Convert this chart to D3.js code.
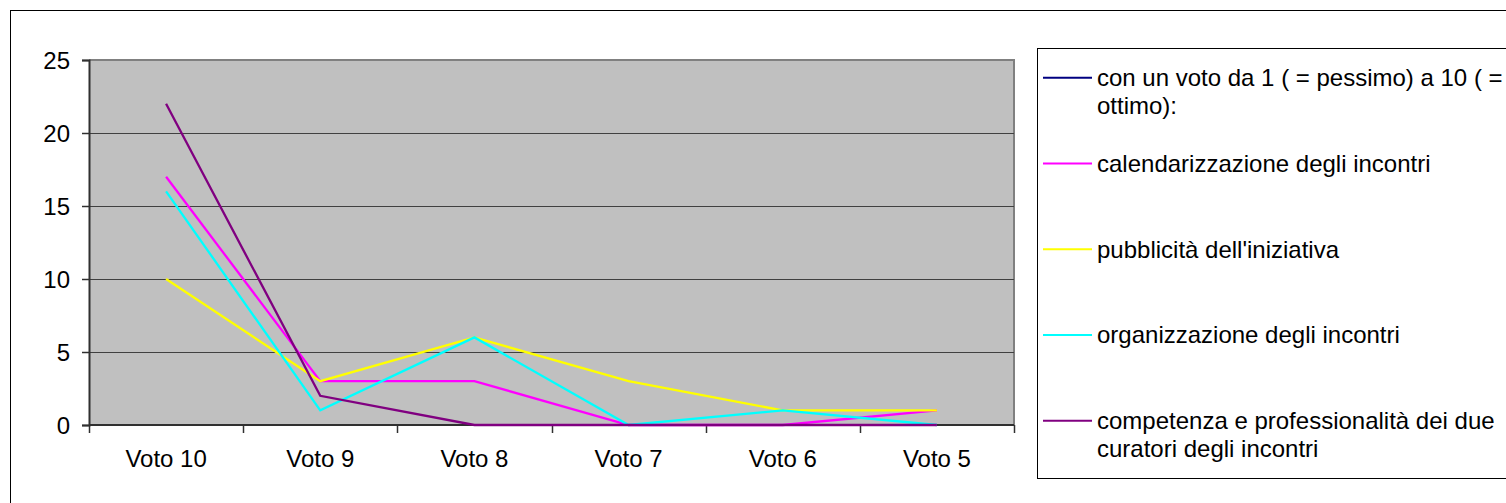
<!DOCTYPE html>
<html>
<head>
<meta charset="utf-8">
<script src="https://cdn.jsdelivr.net/npm/d3@7"></script>
<style>
  html, body { margin: 0; padding: 0; background: #fff; }
  svg { display: block; font-family: "Liberation Sans", Arial, Helvetica, sans-serif; }
</style>
</head>
<body>
<svg id="chart" width="1506" height="503"></svg>
<script>
// ---- data ----
const categories = ["Voto 10", "Voto 9", "Voto 8", "Voto 7", "Voto 6", "Voto 5"];
const seriesNames = [
  "con un voto da 1 ( = pessimo) a 10 ( = ottimo):",
  "calendarizzazione degli incontri",
  "pubblicità dell'iniziativa",
  "organizzazione degli incontri",
  "competenza e professionalità dei due curatori degli incontri"
];
const legendLines = [
  ["con un voto da 1 ( = pessimo) a 10 ( =", "ottimo):"],
  ["calendarizzazione degli incontri"],
  ["pubblicità dell'iniziativa"],
  ["organizzazione degli incontri"],
  ["competenza e professionalità dei due", "curatori degli incontri"]
];
const seriesColors = ["#000080", "#FF00FF", "#FFFF00", "#00FFFF", "#800080"];
const valuesVoto      = [null, null, null, null, null, null];
const valuesCalendar  = [17, 3, 3, 0, 0, 1];
const valuesPubblic   = [10, 3, 6, 3, 1, 1];
const valuesOrganizz  = [16, 1, 6, 0, 1, 0];
const valuesCompet    = [22, 2, 0, 0, 0, 0];
const yTicks = [0, 5, 10, 15, 20, 25];

const seriesValues = [valuesVoto, valuesCalendar, valuesPubblic, valuesOrganizz, valuesCompet];

// ---- layout ----
const svg = d3.select("#chart");
const plot = { left: 89, top: 60, right: 1014, bottom: 425 };
const FONT = 24;

// outer chart border
svg.append("rect")
  .attr("x", 10.5).attr("y", 10.5)
  .attr("width", 1700).attr("height", 700)
  .attr("fill", "#fff").attr("stroke", "#000").attr("stroke-width", 1);

const x = d3.scaleBand().domain(categories).range([plot.left, plot.right]).padding(0);
const y = d3.scaleLinear().domain([0, 25]).range([plot.bottom, plot.top]);

// plot background
svg.append("rect")
  .attr("x", plot.left).attr("y", plot.top)
  .attr("width", plot.right - plot.left).attr("height", plot.bottom - plot.top)
  .attr("fill", "#C0C0C0");

// plot border (top/right grey)
svg.append("path")
  .attr("d", `M${plot.left},${plot.top}H${plot.right}V${plot.bottom}`)
  .attr("fill", "none").attr("stroke", "#808080").attr("stroke-width", 2);

// gridlines
svg.append("g").selectAll("line")
  .data(yTicks.filter(d => d > 0 && d < 25))
  .join("line")
  .attr("x1", plot.left).attr("x2", plot.right)
  .attr("y1", d => Math.round(y(d)) + 0.5).attr("y2", d => Math.round(y(d)) + 0.5)
  .attr("stroke", "#404040").attr("stroke-width", 1);

// y axis
const yAxis = svg.append("g")
  .attr("transform", `translate(${plot.left},0)`)
  .call(d3.axisLeft(y).tickValues(yTicks).tickSize(7).tickPadding(12).tickFormat(d3.format("d")));
yAxis.select(".domain").attr("stroke", "#303030").attr("stroke-width", 2);
yAxis.selectAll(".tick line").attr("stroke", "#303030").attr("stroke-width", 1.5);
yAxis.selectAll(".tick text")
  .attr("font-size", FONT).attr("font-family", "Liberation Sans, Arial, sans-serif")
  .attr("fill", "#000").attr("dy", "0.36em");

// x axis: labels centered in bands, ticks at band boundaries
const xAxis = svg.append("g")
  .attr("transform", `translate(0,${plot.bottom})`)
  .call(d3.axisBottom(x).tickSize(0).tickPadding(0));
xAxis.select(".domain").remove();
xAxis.selectAll(".tick text")
  .attr("font-size", FONT).attr("font-family", "Liberation Sans, Arial, sans-serif")
  .attr("fill", "#000").attr("y", 42).attr("dy", 0);

const boundaries = categories.map(c => x(c)).concat([x.range()[1]]);
svg.append("line")
  .attr("x1", plot.left).attr("x2", plot.right)
  .attr("y1", plot.bottom).attr("y2", plot.bottom)
  .attr("stroke", "#303030").attr("stroke-width", 2);
svg.append("g").selectAll("line")
  .data(boundaries)
  .join("line")
  .attr("x1", d => Math.round(d) + 0.5).attr("x2", d => Math.round(d) + 0.5)
  .attr("y1", plot.bottom).attr("y2", plot.bottom + 8)
  .attr("stroke", "#303030").attr("stroke-width", 1.5);

// series lines
const line = d3.line()
  .defined(d => d.v !== null)
  .x(d => x(d.c) + x.bandwidth() / 2)
  .y(d => y(d.v));

svg.append("g").selectAll("path")
  .data(seriesValues.map((vals, i) => ({ i, pts: vals.map((v, j) => ({ c: categories[j], v })) })))
  .join("path")
  .attr("d", d => line(d.pts))
  .attr("fill", "none")
  .attr("stroke", d => seriesColors[d.i])
  .attr("stroke-width", 2.3)
  .attr("stroke-linejoin", "miter");

// legend
const legend = { left: 1037, top: 48, bottom: 478 };
svg.append("rect")
  .attr("x", legend.left + 0.5).attr("y", legend.top + 0.5)
  .attr("width", 600).attr("height", legend.bottom - legend.top)
  .attr("fill", "#fff").attr("stroke", "#000").attr("stroke-width", 1);

const legendY = d3.scalePoint().domain(d3.range(seriesNames.length)).range([77.7, 420.7]);
const items = svg.append("g").selectAll("g")
  .data(seriesNames.map((n, i) => i))
  .join("g")
  .attr("transform", i => `translate(0,${legendY(i)})`);
items.append("line")
  .attr("x1", 1043).attr("x2", 1092)
  .attr("y1", 0).attr("y2", 0)
  .attr("stroke", i => seriesColors[i]).attr("stroke-width", 2);
items.append("text")
  .attr("font-size", FONT).attr("fill", "#000")
  .selectAll("tspan")
  .data(i => legendLines[i])
  .join("tspan")
  .attr("x", 1097)
  .attr("y", (d, k) => 8.5 + k * 27.5)
  .text(d => d);
</script>
</body>
</html>
